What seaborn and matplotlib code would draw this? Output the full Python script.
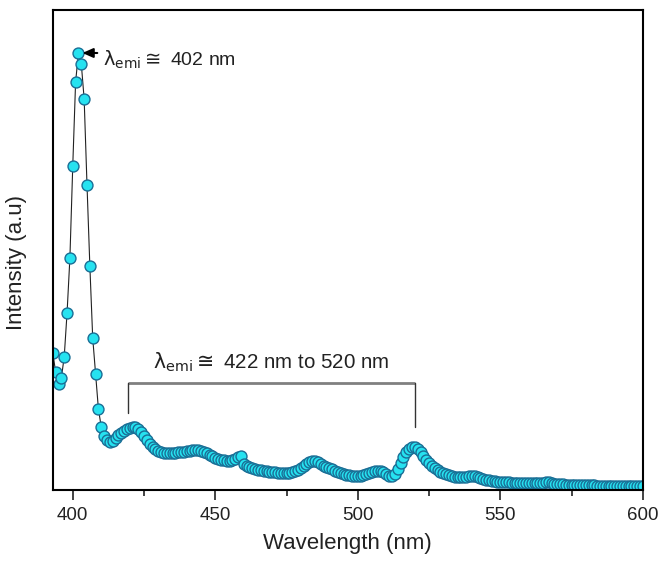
import numpy as np
import pandas as pd
import seaborn as sns
import matplotlib.pyplot as plt

sns.set_style("ticks")
plt.rcParams['font.family'] = ['Liberation Sans', 'DejaVu Sans']
plt.rcParams['mathtext.fontset'] = 'dejavusans'
plt.rcParams['text.color'] = '#222222'
plt.rcParams['axes.labelcolor'] = '#222222'
plt.rcParams['xtick.color'] = '#222222'

# emission spectrum, 1 nm steps
wavelength = np.arange(393, 601)
intensity = [
    137, 118, 106, 112, 133, 177, 232, 324, 408, 437,   # 393-402
    426, 391, 305, 224, 152, 116, 81, 63, 54, 50,       # 403-412
    48, 49, 52, 55, 57, 59, 61, 62, 63, 63,             # 413-422
    61, 58, 54, 50, 46, 43, 41, 39, 38, 37,             # 423-432
    37, 37, 37, 37, 38, 38, 38, 39, 39, 40,             # 433-442
    40, 40, 39, 38, 37, 35, 34, 32, 31, 30,             # 443-452
    30, 29, 29, 30, 31, 33, 34, 26, 24, 23,             # 453-462
    22, 21, 20, 20, 19, 19, 18, 18, 18, 17,             # 463-472
    17, 17, 17, 17, 18, 19, 20, 22, 24, 26,             # 473-482
    28, 29, 29, 28, 26, 24, 23, 22, 21, 19,             # 483-492
    18, 17, 16, 15, 15, 14, 14, 14, 14, 15,             # 493-502
    16, 17, 18, 19, 19, 19, 18, 16, 14, 14,             # 503-512
    16, 21, 27, 33, 38, 41, 43, 43, 41, 38,             # 513-522
    34, 30, 27, 24, 22, 20, 18, 17, 16, 15,             # 523-532
    14, 13, 13, 13, 13, 13, 14, 14, 14, 13,             # 533-542
    12, 11, 10, 10, 9, 9, 8, 8, 8, 8,                   # 543-552
    8, 7, 7, 7, 7, 7, 7, 7, 7, 7,                       # 553-562
    7, 7, 7, 8, 8, 7, 6, 6, 6, 6,                       # 563-572
    5, 5, 5, 5, 5, 5, 5, 5, 5, 5,                       # 573-582
    5, 4, 4, 4, 4, 4, 4, 4, 4, 4,                       # 583-592
    4, 4, 4, 4, 4, 4, 4, 4,                             # 593-600
]
df = pd.DataFrame({'wavelength': wavelength, 'intensity': intensity})

band_edges = [419.3, 520.2]
peak_label = r'$\mathrm{\lambda_{emi}\cong}$ 402 nm'
band_label = r'$\mathrm{\lambda_{emi}\cong}$ 422 nm to 520 nm'

fig = plt.figure(figsize=(6.6, 5.61), dpi=100)
ax = fig.add_axes([0.080, 0.1266, 0.894, 0.8556])

sns.lineplot(data=df, x='wavelength', y='intensity', color='#222222', lw=0.8, ax=ax, zorder=1)
sns.scatterplot(data=df, x='wavelength', y='intensity', s=62, color='#26E2F0',
                edgecolor='#1A6E95', linewidth=1.0, ax=ax, zorder=2)

ax.set_xlim(393, 600)
ax.set_ylim(0, 480)
ax.set_xticks([400, 450, 500, 550, 600])
ax.set_xticks([425, 475, 525, 575], minor=True)
ax.set_yticks([])
ax.tick_params(axis='x', which='major', direction='out', length=7, width=1.2, labelsize=13.5, pad=5)
ax.tick_params(axis='x', which='minor', direction='out', length=4, width=1.2)
for sp in ax.spines.values():
    sp.set_linewidth(1.5)
    sp.set_color('black')
ax.set_xlabel('Wavelength (nm)', fontsize=16)
ax.set_ylabel('Intensity (a.u)', fontsize=16)
ax.xaxis.set_label_coords(0.5, -0.089)
ax.yaxis.set_label_coords(-0.043, 0.473)

# peak annotation
i_max = int(np.argmax(intensity))
pk_x, pk_y = wavelength[i_max], intensity[i_max]
ax.annotate('', xy=(pk_x + 1.4, pk_y), xytext=(pk_x + 6.6, pk_y),
            arrowprops=dict(arrowstyle='-|>,head_length=0.45,head_width=0.2', color='black',
                            lw=1.5, mutation_scale=14, shrinkA=0, shrinkB=0))
ax.text(pk_x + 8.5, pk_y - 7, peak_label, fontsize=14, va='center', ha='left')

# band bracket
ax.plot(band_edges, [107, 107], color='#808080', lw=2, solid_capstyle='butt')
ax.plot([band_edges[0]] * 2, [107, 77], color='#333333', lw=1)
ax.plot([band_edges[1]] * 2, [107, 63], color='#333333', lw=1)
ax.text(428, 122, band_label, fontsize=14.8, va='baseline', ha='left')

fig.savefig('out.png', dpi=100)
